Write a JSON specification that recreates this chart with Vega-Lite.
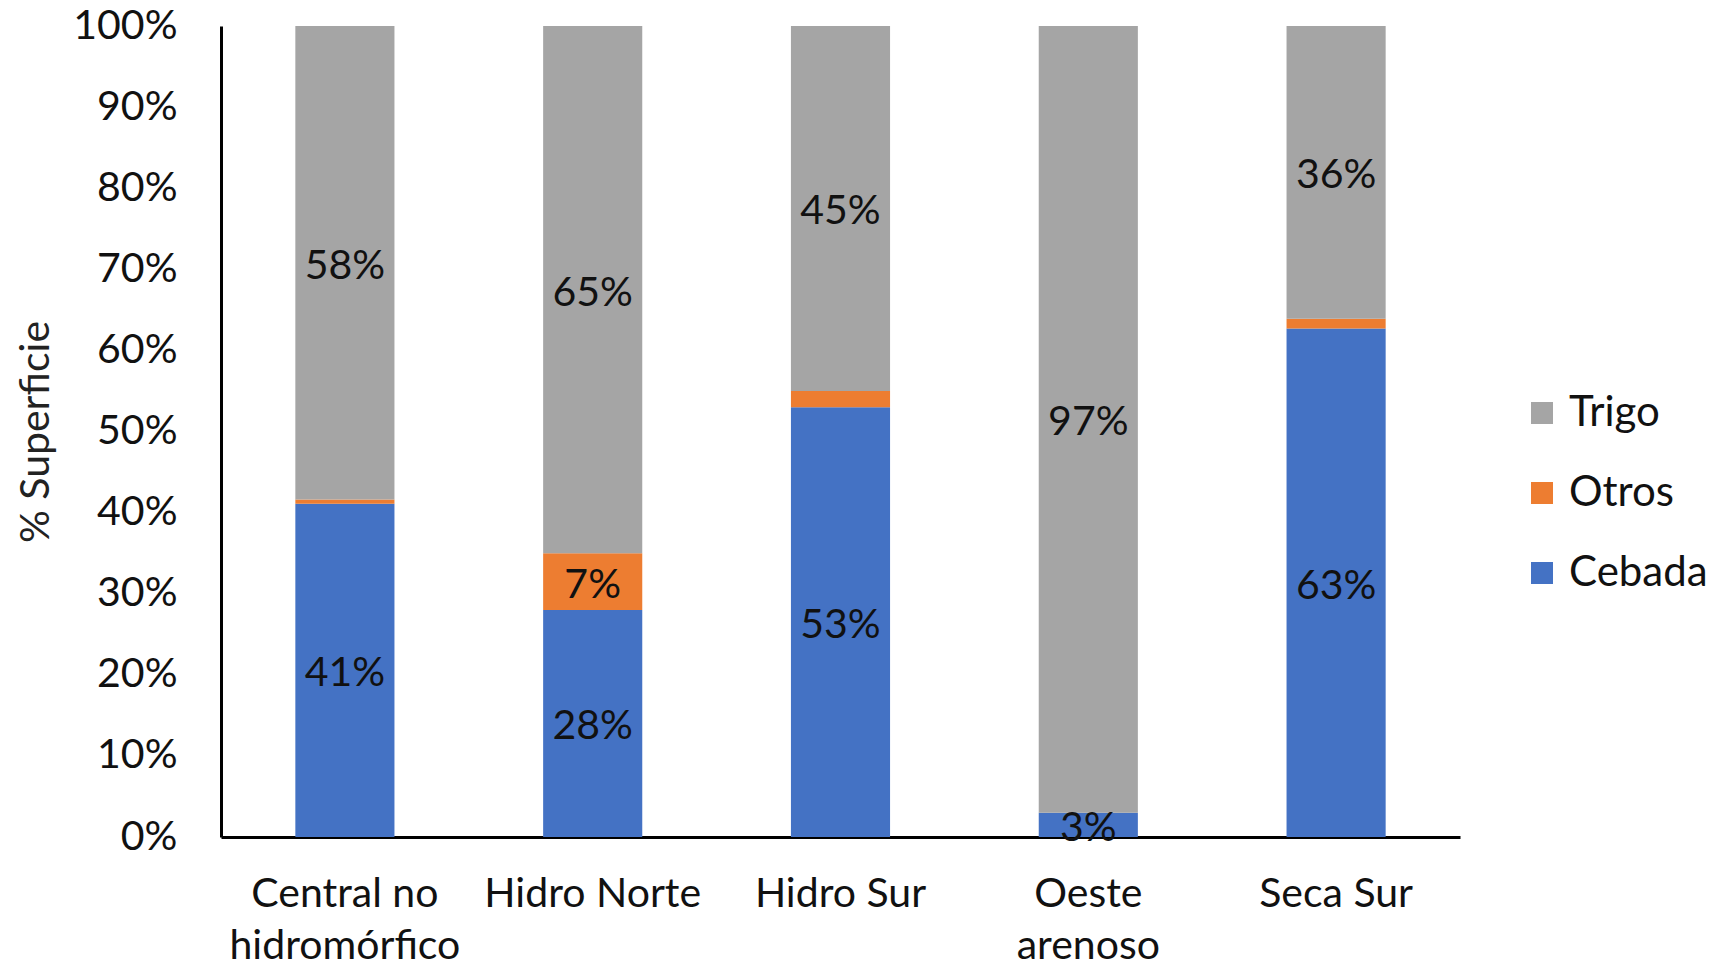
{
  "$schema": "https://vega.github.io/schema/vega-lite/v6.json",
  "width": 1239,
  "height": 811,
  "autosize": {"type": "none"},
  "padding": {"left": 221, "top": 26, "right": 253, "bottom": 134},
  "background": "white",
  "config": {
    "view": {"stroke": null},
    "font": "Lato",
    "axis": {"grid": false, "ticks": false, "domainColor": "black", "domainWidth": 3, "labelFont": "Lato", "labelFontSize": 41, "labelColor": "#111", "labelLimit": 0, "titleFont": "Lato", "titleFontWeight": "normal", "titleColor": "#222"}
  },
  "data": {
    "values": [
      {"zona": "Central no hidromórfico", "cultivo": "Cebada", "orden": 1, "valor": 0.411},
      {"zona": "Central no hidromórfico", "cultivo": "Otros", "orden": 2, "valor": 0.005},
      {"zona": "Central no hidromórfico", "cultivo": "Trigo", "orden": 3, "valor": 0.584},
      {"zona": "Hidro Norte", "cultivo": "Cebada", "orden": 1, "valor": 0.28},
      {"zona": "Hidro Norte", "cultivo": "Otros", "orden": 2, "valor": 0.07},
      {"zona": "Hidro Norte", "cultivo": "Trigo", "orden": 3, "valor": 0.65},
      {"zona": "Hidro Sur", "cultivo": "Cebada", "orden": 1, "valor": 0.53},
      {"zona": "Hidro Sur", "cultivo": "Otros", "orden": 2, "valor": 0.02},
      {"zona": "Hidro Sur", "cultivo": "Trigo", "orden": 3, "valor": 0.45},
      {"zona": "Oeste arenoso", "cultivo": "Cebada", "orden": 1, "valor": 0.03},
      {"zona": "Oeste arenoso", "cultivo": "Otros", "orden": 2, "valor": 0.0},
      {"zona": "Oeste arenoso", "cultivo": "Trigo", "orden": 3, "valor": 0.97},
      {"zona": "Seca Sur", "cultivo": "Cebada", "orden": 1, "valor": 0.627},
      {"zona": "Seca Sur", "cultivo": "Otros", "orden": 2, "valor": 0.012},
      {"zona": "Seca Sur", "cultivo": "Trigo", "orden": 3, "valor": 0.361}
    ]
  },
  "transform": [
    {"stack": "valor", "groupby": ["zona"], "sort": [{"field": "orden", "order": "ascending"}], "as": ["y0", "y1"]},
    {"calculate": "(datum.y0 + datum.y1) / 2", "as": "ymid"}
  ],
  "encoding": {
    "x": {
      "field": "zona", "type": "nominal", "sort": null,
      "scale": {"paddingInner": 0.6, "paddingOuter": 0.3},
      "axis": {"title": null, "labelAngle": 0, "labelPadding": 37, "labelLineHeight": 52, "labelBaseline": "top",
        "labelExpr": "datum.label == 'Central no hidromórfico' ? ['Central no', 'hidromórfico'] : datum.label == 'Oeste arenoso' ? ['Oeste', 'arenoso'] : datum.label"}
    }
  },
  "layer": [
    {
      "mark": {"type": "bar"},
      "encoding": {
        "y": {"field": "y0", "type": "quantitative", "scale": {"domain": [0, 1], "nice": false},
          "axis": {"title": "% Superficie", "titleFontSize": 41, "titlePadding": 15, "format": ".0%", "values": [0,0.1,0.2,0.3,0.4,0.5,0.6,0.7,0.8,0.9,1], "labelPadding": 44, "domain": true}},
        "y2": {"field": "y1"},
        "color": {
          "field": "cultivo", "type": "nominal",
          "scale": {"domain": ["Trigo", "Otros", "Cebada"], "range": ["#A5A5A5", "#ED7D31", "#4472C4"]},
          "legend": {"title": null, "orient": "none", "legendX": 1300, "legendY": 366, "symbolType": "square", "symbolSize": 484, "symbolStrokeWidth": 0, "labelFontSize": 42, "labelFont": "Lato", "labelColor": "#111", "labelLimit": 0, "rowPadding": 38, "labelOffset": 6}
        }
      }
    },
    {
      "transform": [{"filter": "datum.valor >= 0.03"}],
      "mark": {"type": "text", "fontSize": 41, "color": "#111", "baseline": "middle", "dy": 4},
      "encoding": {
        "y": {"field": "ymid", "type": "quantitative"},
        "text": {"field": "valor", "type": "quantitative", "format": ".0%"}
      }
    }
  ]
}
